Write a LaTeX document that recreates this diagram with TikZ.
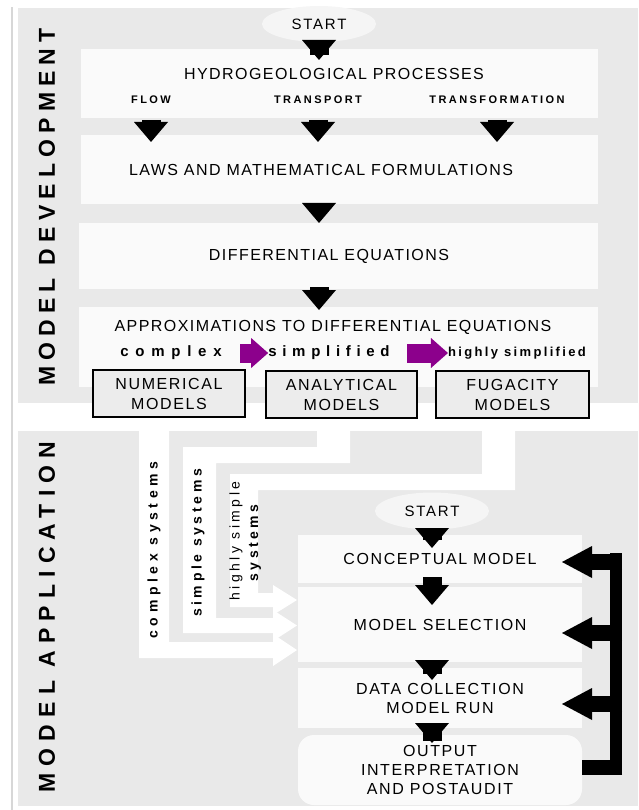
\documentclass[tikz,border=0pt]{standalone}
\usepackage{fontspec}
\setmainfont{Liberation Sans}
\usetikzlibrary{arrows.meta,shapes.geometric}
\definecolor{panel}{RGB}{233,233,233}
\definecolor{boxw}{RGB}{250,250,250}
\definecolor{ell}{RGB}{245,245,245}
\definecolor{mbox}{RGB}{236,236,236}
\definecolor{purp}{RGB}{140,0,140}
\definecolor{rulec}{RGB}{215,215,215}
\newcommand{\lsp}[1]{\addfontfeature{LetterSpace=#1}}
\begin{document}
\begin{tikzpicture}[x=1pt,y=-1pt,
  wbox/.style={fill=boxw,draw=none,inner sep=0pt,outer sep=0pt},
  ellnode/.style={ellipse,fill=ell,draw=none,inner sep=0pt,minimum width=114pt,minimum height=36pt,font=\fontsize{15}{18}\selectfont\lsp{12}},
  bigtxt/.style={inner sep=0pt,font=\fontsize{16}{19}\selectfont\lsp{9}},
  smallcap/.style={inner sep=0pt,font=\fontsize{11}{13}\selectfont\bfseries\lsp{22}},
  lowtxt/.style={inner sep=0pt,font=\fontsize{15}{18}\selectfont\bfseries\lsp{#1}},
  sidetxt/.style={inner sep=0pt,rotate=90,font=\fontsize{23}{26}\selectfont\bfseries\lsp{#1}},
  pipetxt/.style={inner sep=0pt,rotate=90,font=\fontsize{14}{16}\selectfont\bfseries\lsp{#1}},
  pipetxtr/.style={inner sep=0pt,rotate=90,font=\fontsize{14}{16}\selectfont\lsp{#1}},
  modelbox/.style={draw=black,line width=1.8pt,fill=mbox,inner sep=0pt,align=center,minimum width=152pt,minimum height=47pt,font=\fontsize{16}{20}\selectfont\lsp{10}},
  appbox/.style={wbox,align=center,minimum width=284pt,font=\fontsize{16}{19}\selectfont\lsp{10}},
  blk/.style={draw=black,line width=19pt,-{Triangle[width=34pt,length=20pt,line width=0pt]}},
  parr/.style={draw=purp,line width=19pt,-{Triangle[width=30pt,length=17pt,line width=0pt]}},
  fbarr/.style={draw=black,line width=16pt,-{Triangle[width=32pt,length=30pt,line width=0pt]}},
  pipe/.style={fill=white,draw=none}
]
\useasboundingbox (0,0) rectangle (638,810);
% background panels
\fill[rulec] (11,7) rectangle (13,810);
\fill[panel] (18,8) rectangle (638,403);
\fill[panel] (18,431) rectangle (638,806);

% ---------------- MODEL DEVELOPMENT ----------------
\node[sidetxt=27] (dev) at (47,207) {MODEL DEVELOPMENT};

\node[wbox,minimum width=517pt,minimum height=69pt] (b1) at (339.5,83.5) {};
\node[wbox,minimum width=517pt,minimum height=69pt] (b2) at (339.5,169.5) {};
\node[wbox,minimum width=519pt,minimum height=66pt] (b3) at (338.5,256) {};
\node[wbox,minimum width=519pt,minimum height=80pt] (b4) at (338.5,347) {};

\node[ellnode] (s1) at (319,24) {START};
\draw[blk,shorten <=-13pt,shorten >=-11pt] (s1.south) -- (s1.south |- b1.north);

\node[bigtxt] (t1) at (334,74) {HYDROGEOLOGICAL PROCESSES};
\node[smallcap] (fl) at (151,100) {FLOW};
\node[smallcap] (tr) at (318,100) {TRANSPORT};
\node[smallcap] (tf) at (497,100) {TRANSFORMATION};
\draw[blk,shorten <=2pt,shorten >=-7pt] (b1.south -| fl) -- (b2.north -| fl);
\draw[blk,shorten <=2pt,shorten >=-7pt] (b1.south -| tr) -- (b2.north -| tr);
\draw[blk,shorten <=2pt,shorten >=-7pt] (b1.south -| tf) -- (b2.north -| tf);

\node[bigtxt] (t2) at (321,170) {LAWS AND MATHEMATICAL FORMULATIONS};
\draw[blk,shorten <=-4pt] (s1 |- b2.south) -- (s1 |- b3.north);

\node[bigtxt] (t3) at (329,256) {DIFFERENTIAL EQUATIONS};
\draw[blk,shorten <=-2pt,shorten >=-3pt] (s1 |- b3.south) -- (s1 |- b4.north);

\node[bigtxt] (t4) at (333,327) {APPROXIMATIONS TO DIFFERENTIAL EQUATIONS};
\node[lowtxt=45] (cx) at (171,353) {complex};
\node[lowtxt=38] (sp) at (329,353) {simplified};
\node[inner sep=0pt,font=\fontsize{13}{15}\selectfont\bfseries\lsp{18}] (hs) at (517,353) {highly simplified};
\coordinate (p1a) at (240,353);
\coordinate (p2a) at (407,353);
\draw[parr] (p1a) -- (p1a -| sp.west);
\draw[parr] (p2a) -- (p2a -| hs.west);

% ---------------- pipes ----------------
\fill[pipe] (139,418) -- (169,418) -- (169,642) -- (273,642) -- (273,634) -- (297,650) -- (273,666) -- (273,658) -- (139,658) -- cycle;
\fill[pipe] (317,418) -- (350,418) -- (350,463) -- (216,463) -- (216,618) -- (273,618) -- (273,610) -- (297,625.5) -- (273,641) -- (273,633) -- (183,633) -- (183,447) -- (317,447) -- cycle;
\fill[pipe] (482,418) -- (515,418) -- (515,490) -- (258,490) -- (258,593) -- (273,593) -- (273,585) -- (297,600) -- (273,615) -- (273,607) -- (230,607) -- (230,474) -- (482,474) -- cycle;

\node[modelbox] (nm) at (169,393.5) {NUMERICAL\\MODELS};
\node[modelbox,minimum width=151pt] (an) at (341.5,394.5) {ANALYTICAL\\MODELS};
\node[modelbox,minimum width=153pt] (fg) at (512.5,394.5) {FUGACITY\\MODELS};

\node[pipetxt=33] (pc) at (154,550) {complex systems};
\node[pipetxt=26] (ps) at (198,543) {simple systems};
\node[pipetxtr=25] (ph) at (236,541) {highly simple};
\node[pipetxt=25] (ph2) at (255,543) {systems};

% ---------------- MODEL APPLICATION ----------------
\node[sidetxt=31] (app) at (47,617) {MODEL APPLICATION};

\node[appbox,minimum height=48pt] (con) at (440,559) {CONCEPTUAL MODEL};
\node[appbox,minimum height=75pt] (sel) at (440,624.5) {MODEL SELECTION};
\node[appbox,minimum height=60pt] (dat) at (440,698) {DATA COLLECTION\\MODEL RUN};
\node[appbox,minimum height=70pt,rounded corners=16pt] (out) at (440,770) {OUTPUT\\INTERPRETATION\\AND POSTAUDIT};

\node[ellnode,minimum height=37pt] (s2) at (432,511) {START};
\draw[blk,shorten <=-10.5pt,shorten >=-13pt] (s2.south) -- (s2.south |- con.north);
\draw[blk,shorten <=-6pt,shorten >=-18pt] (s2 |- con.south) -- (s2 |- sel.north);
\draw[blk,shorten <=-12pt,shorten >=-12pt] (s2 |- sel.south) -- (s2 |- dat.north);
\draw[blk,shorten <=-13pt,shorten >=-8pt] (s2 |- dat.south) -- (s2 |- out.north);

% feedback
\coordinate (fbtop) at (616,553);
\coordinate (fbbot) at (616,775);
\draw[line width=12pt] (fbtop) -- (fbbot);
\coordinate (fb0) at (622,767.5);
\draw[line width=15pt] (fb0) -- (fb0 -| out.east);
\coordinate (fb1) at (622,562);
\coordinate (fb2) at (622,633);
\coordinate (fb3) at (622,704);
\draw[fbarr,shorten >=-20pt] (fb1) -- (fb1 -| con.east);
\draw[fbarr,shorten >=-20pt] (fb2) -- (fb2 -| sel.east);
\draw[fbarr,shorten >=-20pt] (fb3) -- (fb3 -| dat.east);
\end{tikzpicture}
\end{document}
